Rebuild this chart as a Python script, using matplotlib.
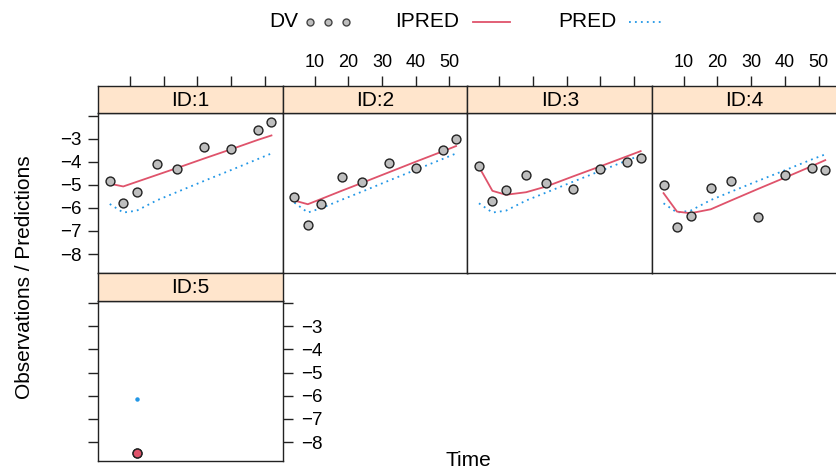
import matplotlib
matplotlib.use("Agg")
import matplotlib.pyplot as plt

plt.rcParams['font.family'] = ['Liberation Sans', 'DejaVu Sans']

# sampling times (same for every subject)
time = [4, 8, 12, 18, 24, 32, 40, 48, 52]

dv_id1 = [-4.85, -5.79, -5.33, -4.11, -4.31, -3.35, -3.45, -2.62, -2.28]
ipred_id1 = [-4.95, -5.07, -4.87, -4.57, -4.27, -3.86, -3.46, -3.05, -2.86]
pred_id1 = [-5.83, -6.20, -6.12, -5.67, -5.31, -4.83, -4.36, -3.88, -3.64]

dv_id2 = [-5.51, -6.74, -5.81, -4.66, -4.88, -4.05, -4.25, -3.50, -3.00]
ipred_id2 = [-5.68, -5.84, -5.61, -5.26, -4.92, -4.46, -4.00, -3.55, -3.32]
pred_id2 = [-5.77, -6.20, -6.01, -5.65, -5.30, -4.82, -4.35, -3.88, -3.64]

dv_id3 = [-4.20, -5.69, -5.21, -4.59, -4.92, -5.17, -4.33, -3.99, -3.85]
ipred_id3 = [-4.22, -5.26, -5.43, -5.32, -5.07, -4.63, -4.20, -3.76, -3.54]
pred_id3 = [-5.80, -6.20, -6.12, -5.68, -5.33, -4.86, -4.40, -3.94, -3.72]

dv_id4 = [-5.01, -6.82, -6.35, -5.14, -4.85, -6.39, -4.59, -4.27, -4.34]
ipred_id4 = [-5.36, -6.16, -6.23, -6.06, -5.68, -5.18, -4.69, -4.19, -3.93]
pred_id4 = [-5.80, -6.20, -6.12, -5.66, -5.30, -4.83, -4.37, -3.90, -3.68]

time_id5 = [12]
dv_id5 = [-8.46]
ipred_id5 = [-8.46]
pred_id5 = [-6.15]

ids = ["ID:1", "ID:2", "ID:3", "ID:4", "ID:5"]
x_ticks = [10, 20, 30, 40, 50]
y_ticks = [-8, -7, -6, -5, -4, -3, -2]
y_labels = ["\u22128", "\u22127", "\u22126", "\u22125", "\u22124", "\u22123", ""]

RED = "#DF536B"
BLUE = "#2297E6"
STRIP = "#ffe5cc"
EDGE = "#222222"

W, H = 837, 475
fig = plt.figure(figsize=(W / 100, H / 100), dpi=100)


def px_axes(x0, y0, x1, y1, **kw):
    return fig.add_axes([x0 / W, 1 - y1 / H, (x1 - x0) / W, (y1 - y0) / H], **kw)


cols = [98.3, 282.9, 467.5, 652.1, 836.7]
rows = [(86, 113.3, 273), (273, 300.7, 461)]   # strip top, panel top, panel bottom
xlim = (0.6, 55.4)
ylim = (-8.82, -1.9)

panels = [
    (0, 0, time, dv_id1, ipred_id1, pred_id1),
    (0, 1, time, dv_id2, ipred_id2, pred_id2),
    (0, 2, time, dv_id3, ipred_id3, pred_id3),
    (0, 3, time, dv_id4, ipred_id4, pred_id4),
    (1, 0, time_id5, dv_id5, ipred_id5, pred_id5),
]

for k, (r, c, t, dv, ipred, pred) in enumerate(panels):
    st, pt, pb = rows[r]
    x0, x1 = cols[c], cols[c + 1]
    ax = px_axes(x0, pt, x1, pb)
    sax = px_axes(x0, st, x1, pt, sharex=ax)

    ax.set_xlim(*xlim)
    ax.set_ylim(*ylim)
    for sp in ax.spines.values():
        sp.set_color(EDGE)
        sp.set_linewidth(1)

    if len(t) > 1:
        ax.plot(t, pred, color=BLUE, lw=1.3, ls=(0, (1, 2.3)))
        ax.plot(t, ipred, color=RED, lw=1.3)
        ax.plot(t, dv, ls="none", marker="o", ms=6.4, mfc="#bebebe",
                mec=EDGE, mew=1)
    else:
        ax.plot(t, pred, ls="none", marker="o", ms=2.2, mfc=BLUE, mec=BLUE)
        ax.plot(t, dv, ls="none", marker="o", ms=6.4, mfc="#bebebe",
                mec=EDGE, mew=1)
        ax.plot(t, ipred, ls="none", marker="o", ms=6.4, mfc=RED,
                mec=EDGE, mew=1)

    ax.tick_params(axis="x", bottom=False, labelbottom=False)
    ax.set_yticks(y_ticks)
    ax.set_yticklabels(y_labels)
    ax.tick_params(axis="y", direction="out", length=7, width=1, color=EDGE,
                   labelsize=13.5, left=False, labelleft=False,
                   right=False, labelright=False)
    if r == 0 and c == 0:
        ax.tick_params(axis="y", left=True, labelleft=True, pad=5)
    if r == 0 and c == 3:
        ax.tick_params(axis="y", right=True)
    if r == 1:
        ax.tick_params(axis="y", left=True, right=True, labelright=True, pad=6)

    # strip
    sax.set_facecolor(STRIP)
    sax.set_ylim(0, 1)
    sax.set_yticks([])
    for sp in sax.spines.values():
        sp.set_color(EDGE)
        sp.set_linewidth(1)
    sax.text(0.5, 0.47, ids[k], transform=sax.transAxes, ha="center",
             va="center", fontsize=15)
    if r == 0:
        sax.set_xticks(x_ticks)
        sax.tick_params(axis="x", top=True, bottom=False, labelbottom=False,
                        labeltop=(c in (1, 3)), direction="out", length=7,
                        width=1, color=EDGE, labelsize=13, pad=4)
    else:
        sax.tick_params(axis="x", top=False, bottom=False,
                        labelbottom=False, labeltop=False)

# axis titles
fig.text(24.5 / W, 1 - 277 / H, "Observations / Predictions", rotation=90,
         ha="center", va="center", fontsize=15)
fig.text(468 / W, 1 - 461 / H, "Time", ha="center", va="center", fontsize=15)

# key at the top
kax = px_axes(0, 0, W, H)
kax.set_xlim(0, W)
kax.set_ylim(H, 0)
kax.axis("off")
ky = 21.5
kax.text(269, ky, "DV", ha="left", va="center", fontsize=15)
kax.plot([310, 327.7, 346], [ky, ky, ky], ls="none", marker="o", ms=5,
         mfc="#bebebe", mec="#444444", mew=1)
kax.text(395, ky, "IPRED", ha="left", va="center", fontsize=15)
kax.plot([472.7, 510], [ky, ky], color=RED, lw=1.3)
kax.text(558, ky, "PRED", ha="left", va="center", fontsize=15)
kax.plot([629, 663], [ky, ky], color=BLUE, lw=1.3, ls=(0, (1, 2.3)))

fig.savefig("out.png", dpi=100)
